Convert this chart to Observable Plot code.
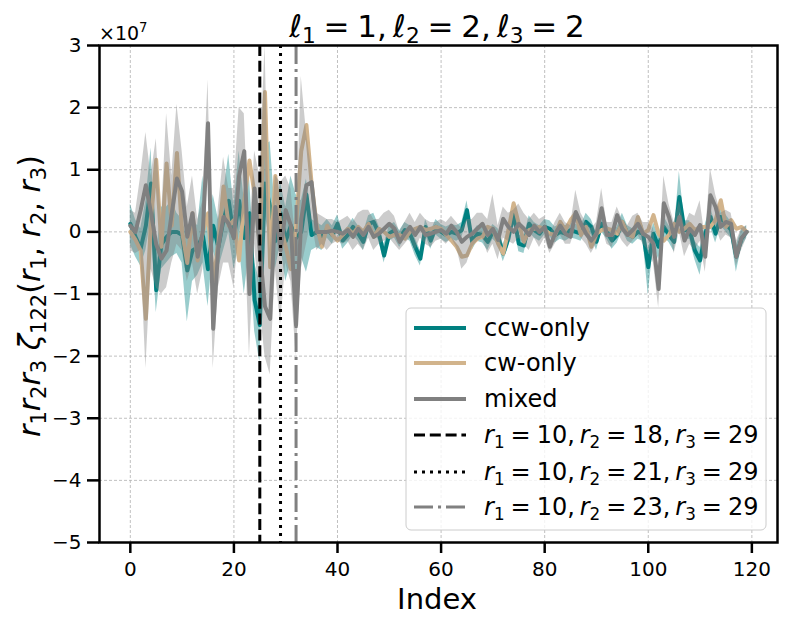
<!DOCTYPE html>
<html><head><meta charset="utf-8">
<script src="https://cdn.jsdelivr.net/npm/d3@7"></script>
<script src="https://cdn.jsdelivr.net/npm/@observablehq/plot@0.6"></script>
<style>
body{margin:0;background:#fff} svg{display:block}
</style>
</head><body><div id="chart"></div>
<script>
// ---- data (values in units of 1e7) ----
const ccw = [0.13,-0.08,-0.27,0.1,0.78,-0.94,-0.2,-0.08,0.0,0.0,-0.05,-0.62,-0.3,-0.25,-0.05,-0.6,0.1,-0.25,0.2,0.5,-0.1,0.5,-0.1,0.3,-1.1,-1.5,0.78,0.4,-0.15,0.3,-0.15,0.1,-0.1,0.0,0.6,-0.05,0.0,-0.1,0.05,-0.05,
0.13,-0.14,-0.05,0.08,-0.03,-0.16,0.13,0.16,-0.03,-0.38,-0.03,0.03,-0.11,0.03,-0.03,-0.24,-0.43,0.08,-0.14,0.08,0.0,-0.05,0.0,-0.03,0.03,0.35,-0.16,-0.03,-0.05,-0.16,0.0,-0.08,-0.35,-0.11,0.3,-0.19,-0.22,0.13,0.03,-0.03,
0.08,0.05,-0.05,0.0,-0.03,0.03,0.0,-0.03,0.16,0.08,-0.16,0.13,0.0,-0.14,-0.05,0.16,-0.03,-0.08,0.0,-0.03,-0.57,-0.03,-0.24,0.08,-0.05,-0.16,0.56,0.03,0.03,-0.3,-0.46,-0.03,0.24,-0.03,0.24,0.13,0.03,-0.4,-0.11,0.0];
const ccwLo = [-0.2,-0.4,-0.55,-0.3,0.2,-1.3,-0.6,-0.5,-0.4,-0.35,-0.5,-1.45,-0.8,-0.7,-0.5,-1.2,-0.3,-0.6,-0.3,0.0,-0.6,-0.2,-1.0,-0.3,-1.6,-2.1,0.3,-0.2,-0.6,-0.2,-0.8,-0.5,-0.9,-0.4,-0.65,-0.3,-0.25,-0.3,-0.1,-0.2,
0.0,-0.28,-0.18,-0.05,-0.15,-0.3,0.0,0.02,-0.15,-0.5,-0.15,-0.1,-0.25,-0.1,-0.15,-0.38,-0.55,-0.05,-0.28,-0.05,-0.12,-0.17,-0.12,-0.15,-0.1,0.2,-0.3,-0.15,-0.18,-0.3,-0.12,-0.2,-0.48,-0.25,0.15,-0.32,-0.35,0.0,-0.1,-0.15,
-0.05,-0.08,-0.18,-0.12,-0.15,-0.1,-0.12,-0.15,0.02,-0.05,-0.3,0.0,-0.12,-0.28,-0.18,0.02,-0.15,-0.2,-0.12,-0.15,-1.02,-0.2,-0.45,-0.08,-0.17,-0.32,0.3,-0.12,-0.12,-0.45,-0.7,-0.18,0.08,-0.18,0.1,0.0,-0.1,-0.65,-0.25,-0.1];
const ccwHi = [0.45,0.2,0.05,0.5,1.35,-0.4,0.4,0.4,0.5,0.3,0.2,-0.1,0.2,0.1,0.9,0.0,0.6,0.2,0.6,1.25,0.4,1.3,0.5,0.9,-0.5,-0.8,1.4,1.45,0.3,0.8,0.4,0.9,0.6,0.5,0.85,0.2,0.15,0.1,0.2,0.1,
0.27,0.0,0.08,0.22,0.1,-0.02,0.26,0.3,0.1,-0.2,0.1,0.15,0.02,0.15,0.1,-0.1,-0.3,0.2,0.0,0.2,0.12,0.08,0.12,0.1,0.15,0.5,-0.02,0.1,0.08,-0.02,0.12,0.05,-0.2,0.02,0.45,-0.05,-0.08,0.26,0.15,0.1,
0.2,0.18,0.08,0.12,0.1,0.15,0.12,0.1,0.3,0.2,-0.02,0.26,0.12,0.0,0.08,0.3,0.1,0.05,0.12,0.1,-0.3,0.15,-0.05,0.25,0.1,0.0,0.97,0.18,0.18,-0.15,-0.25,0.12,0.4,0.12,0.38,0.27,0.16,-0.22,0.03,0.1];
const cw = [0.0,-0.13,-0.3,-1.4,0.2,1.16,-0.24,1.1,0.1,1.27,0.0,-0.5,0.3,-0.46,0.0,0.3,-0.8,-0.2,0.73,0.1,0.19,-0.46,0.5,1.15,0.6,-0.2,2.25,-0.57,0.9,0.1,-0.24,-0.6,0.1,1.3,1.72,0.78,0.1,-0.24,0.1,-0.05,
-0.14,-0.05,0.05,-0.03,0.08,0.0,0.13,-0.08,0.05,0.0,-0.08,-0.05,-0.05,-0.11,0.0,0.05,0.08,0.03,0.05,0.08,0.05,-0.05,-0.14,-0.24,-0.4,-0.38,-0.19,-0.11,-0.08,0.08,0.05,-0.19,-0.35,0.03,0.46,0.13,-0.16,0.03,0.05,0.08,
0.03,-0.03,-0.05,0.16,0.03,0.19,0.3,-0.05,0.08,-0.24,-0.03,0.03,0.05,0.03,-0.03,0.16,-0.03,-0.08,0.24,-0.03,0.03,0.27,-0.03,-0.14,-0.05,0.13,0.0,0.05,0.13,0.03,0.08,0.08,0.08,0.19,0.51,0.08,0.19,0.05,0.08,0.0];
const mixed = [0.1,0.0,0.35,0.75,0.3,-0.2,-0.43,-0.3,0.3,0.86,0.65,-0.08,0.3,-0.4,0.0,1.75,-1.56,-0.24,0.24,0.13,-0.1,0.9,1.3,-1.0,0.7,-0.3,-1.2,-1.4,0.4,-0.3,0.35,0.1,-1.5,0.2,0.75,0.8,0.0,0.0,0.0,0.02,
0.0,-0.03,0.03,-0.08,0.05,-0.05,0.08,-0.08,-0.03,0.05,0.13,0.05,-0.16,-0.03,0.08,-0.05,0.08,-0.05,-0.03,0.0,0.03,-0.03,0.1,0.0,-0.16,-0.08,-0.03,0.05,0.13,-0.05,0.05,-0.13,0.21,0.08,0.0,0.13,0.05,-0.05,0.1,0.0,
0.08,-0.24,-0.03,0.1,-0.03,-0.08,0.32,0.13,-0.03,-0.14,-0.03,0.38,-0.05,-0.05,0.27,0.05,-0.05,0.03,0.13,-0.03,-0.08,-0.19,-0.92,0.46,0.24,-0.08,0.24,-0.14,0.05,-0.05,0.11,-0.4,0.59,0.4,0.08,0.16,0.13,-0.4,-0.1,0.0];
const mixedLo = [-0.3,-0.35,-0.3,-2.2,-0.6,-0.9,-1.0,-0.9,-0.5,-0.2,-0.3,-0.8,-0.5,-1.0,-0.6,1.0,-2.2,-0.9,-0.5,-0.5,-0.9,0.0,0.3,-2.0,-0.2,-1.2,-2.0,-2.3,-0.6,-1.5,-0.5,-0.8,-2.0,-0.6,-0.2,0.2,-0.3,-0.2,-0.3,-0.2,
-0.15,-0.2,-0.15,-0.3,-0.2,-0.3,-0.1,-0.3,-0.2,-0.15,-0.1,-0.2,-0.3,-0.2,-0.1,-0.3,-0.1,-0.2,-0.25,-0.15,-0.12,-0.2,-0.1,-0.25,-0.6,-0.5,-0.25,-0.15,-0.1,-0.35,-0.2,-0.45,-0.1,-0.15,-0.2,-0.1,-0.2,-0.3,-0.1,-0.25,
-0.1,-0.35,-0.2,-0.05,-0.2,-0.2,0.05,-0.1,-0.2,-0.35,-0.2,0.1,-0.2,-0.25,0.0,-0.15,-0.25,-0.15,-0.05,-0.2,-0.3,-0.5,-1.22,0.1,0.0,-0.35,0.0,-0.4,-0.2,-0.3,-0.15,-0.65,0.2,0.1,-0.15,-0.05,-0.1,-0.55,-0.3,-0.1];
const mixedHi = [0.35,0.3,0.9,1.6,0.9,1.5,0.2,1.9,0.9,2.05,1.3,0.4,0.9,0.2,0.5,2.45,-0.9,0.4,1.2,0.7,0.7,2.0,1.9,-0.1,1.3,0.9,3.0,-0.3,0.9,0.8,0.9,0.7,-0.2,2.5,1.6,1.0,0.3,0.25,0.2,0.2,
0.15,0.2,0.25,0.15,0.3,0.35,0.35,0.2,0.2,0.3,0.35,0.25,0.0,0.15,0.3,0.15,0.3,0.2,0.15,0.15,0.2,0.15,0.25,0.15,0.05,0.2,0.2,0.3,0.3,0.2,0.6,0.1,0.4,0.3,0.35,0.45,0.3,0.2,0.3,0.2,
0.25,-0.05,0.15,0.3,0.15,0.1,0.67,0.3,0.15,0.05,0.15,0.7,0.15,0.15,0.4,0.2,0.1,0.25,0.3,0.15,0.15,0.05,-0.6,0.9,0.45,0.15,0.5,0.1,0.3,0.25,0.5,-0.1,1.02,0.6,0.3,0.35,0.3,-0.15,0.05,0.1];

const seriesNames = ["ccw-only", "cw-only", "mixed"];
const seriesColors = ["#008080", "#d2b48c", "#808080"];
const vlineX = [25, 29, 32];
const vlineR1 = [10, 10, 10];
const vlineR2 = [18, 21, 23];
const vlineR3 = [29, 29, 29];
const xTicks = [0, 20, 40, 60, 80, 100, 120];
const yTicks = [-5, -4, -3, -2, -1, 0, 1, 2, 3];

// ---- tables ----
const rows = ccw.map((v, i) => ({i, ccw: v, ccwLo: ccwLo[i], ccwHi: ccwHi[i], cw: cw[i], mixed: mixed[i], mixedLo: mixedLo[i], mixedHi: mixedHi[i]}));
const vlines = vlineX.map((x, k) => ({x, k}));
const vStyles = [
  {stroke: "#000000", dash: "11,4.8"},
  {stroke: "#000000", dash: "3,5"},
  {stroke: "#808080", dash: "19,5,3,5"}
];

const FONT = "DejaVu Sans";
const W = 789, H = 627;

const plot = Plot.plot({
  width: W, height: H,
  marginLeft: 99, marginRight: 12, marginTop: 45, marginBottom: 85,
  style: {fontFamily: FONT, fontSize: "20px", background: "#fff", color: "black"},
  x: {domain: [-5.95, 124.95]},
  y: {domain: [-5, 3]},
  marks: [
    Plot.gridX(xTicks, {stroke: "#b0b0b0", strokeOpacity: 1, strokeWidth: 0.8, strokeDasharray: "3,2"}),
    Plot.gridY(yTicks, {stroke: "#b0b0b0", strokeOpacity: 1, strokeWidth: 0.8, strokeDasharray: "3,2"}),
    Plot.areaY(rows, {x: "i", y1: "ccwLo", y2: "ccwHi", fill: seriesColors[0], fillOpacity: 0.4}),
    Plot.lineY(rows, {x: "i", y: "ccw", stroke: seriesColors[0], strokeWidth: 4}),
    Plot.lineY(rows, {x: "i", y: "cw", stroke: seriesColors[1], strokeWidth: 4}),
    Plot.areaY(rows, {x: "i", y1: "mixedLo", y2: "mixedHi", fill: seriesColors[2], fillOpacity: 0.4}),
    Plot.lineY(rows, {x: "i", y: "mixed", stroke: seriesColors[2], strokeWidth: 4}),
    ...vlines.map(d => Plot.ruleX([d.x], {stroke: vStyles[d.k].stroke, strokeWidth: 3, strokeDasharray: vStyles[d.k].dash})),
    Plot.frame({stroke: "black", strokeWidth: 2.5}),
    Plot.axisX(xTicks, {tickSize: 11, tickPadding: 8, label: null, strokeWidth: 2.5}),
    Plot.axisY(yTicks, {tickSize: 12, tickPadding: 6, label: null, strokeWidth: 2.5,
      tickFormat: d => d < 0 ? "\u2212" + Math.abs(d) : String(d)})
  ]
});
document.getElementById("chart").appendChild(plot);

const svg = d3.select(plot);
// Plot's own tick labels at 20px
svg.selectAll("text").attr("font-size", 20).style("font-size", "20px").style("font-family", FONT);

// ---- math-like text helper ----
function mtext(g, parts, size, attrs) {
  const t = g.append("text").attr("font-family", FONT).attr("font-size", size).attr("fill", "black")
    .attr("text-anchor", "start").style("white-space", "pre");
  for (const k in attrs) t.attr(k, attrs[k]);
  let shift = 0;
  for (const [s, kind] of parts) {
    const ts = t.append("tspan").text(s);
    const target = kind === "s" ? 0.2 * size : kind === "S" ? -0.42 * size : 0;
    ts.attr("dy", target - shift); shift = target;
    if (kind === "s" || kind === "S") ts.attr("font-size", size * 0.7);
    if (kind === "i") ts.attr("font-style", "italic");
  }
  return t;
}
const g = svg.append("g");
const TS = "\u2009"; // thin space
const EQ = "\u2005=\u2005";

// title
mtext(g, [["\u2113","i"],["1","s"],[EQ + "1,"+TS,"n"],["\u2113","i"],["2","s"],[EQ + "2,"+TS,"n"],["\u2113","i"],["3","s"],[EQ + "2","n"]], 31,
  {x: 437, y: 37, "text-anchor": "middle"});
// offset text
mtext(g, [["\u00d710","n"],["7","S"]], 19, {x: 99, y: 40});
// axis labels
g.append("text").attr("x", 437).attr("y", 609).attr("text-anchor", "middle").attr("font-family", FONT).attr("font-size", 29).text("Index");
mtext(g, [["r","i"],["1","s"],["r","i"],["2","s"],["r","i"],["3","s"],[" ","n"],["\u03b6","i"],["122","s"],["(","n"],["r","i"],["1","s"],[", ","n"],["r","i"],["2","s"],[", ","n"],["r","i"],["3","s"],[")","n"]], 30,
  {x: 0, y: 0, "text-anchor": "middle", transform: "translate(40,296) rotate(-90)"});

// legend
const lg = svg.append("g");
lg.append("rect").attr("x", 406).attr("y", 308).attr("width", 360).attr("height", 222).attr("rx", 5)
  .attr("fill", "white").attr("fill-opacity", 0.8).attr("stroke", "#cccccc").attr("stroke-width", 1);
const rowY = [328, 363, 399, 435, 472, 507];
seriesNames.forEach((name, k) => {
  lg.append("line").attr("x1", 414).attr("x2", 466).attr("y1", rowY[k]).attr("y2", rowY[k])
    .attr("stroke", seriesColors[k]).attr("stroke-width", 4);
  lg.append("text").attr("x", 484).attr("y", rowY[k] + 8).attr("text-anchor", "start").attr("font-family", FONT).attr("font-size", 24).text(name);
});
vlines.forEach(d => {
  const y = rowY[3 + d.k];
  lg.append("line").attr("x1", 414).attr("x2", 466).attr("y1", y).attr("y2", y)
    .attr("stroke", vStyles[d.k].stroke).attr("stroke-width", 3).attr("stroke-dasharray", vStyles[d.k].dash);
  mtext(lg, [["r","i"],["1","s"],[EQ + vlineR1[d.k] + ","+TS,"n"],["r","i"],["2","s"],[EQ + vlineR2[d.k] + ","+TS,"n"],["r","i"],["3","s"],[EQ + vlineR3[d.k],"n"]], 24,
    {x: 484, y: y + 8});
});
</script></body></html>
